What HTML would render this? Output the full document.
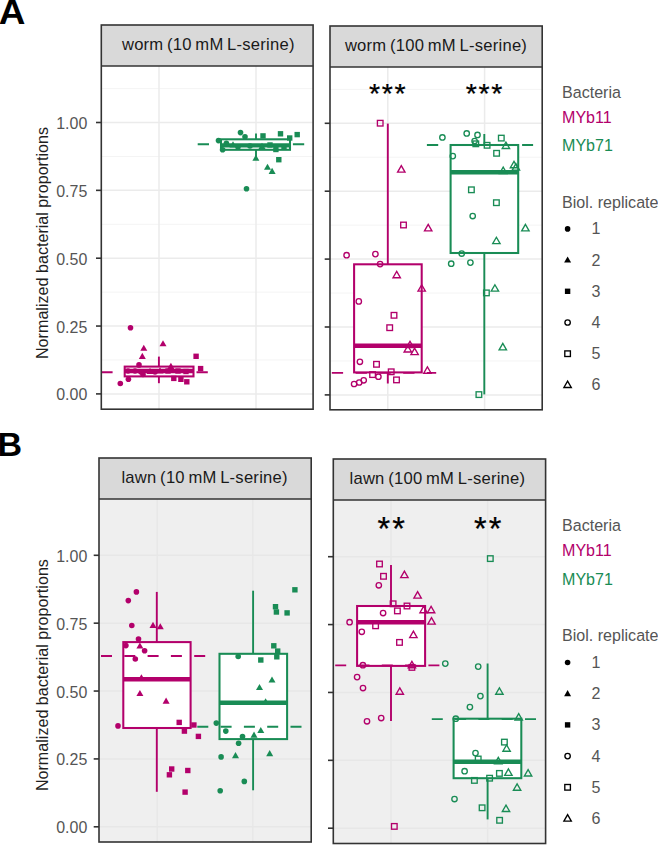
<!DOCTYPE html><html><head><meta charset="utf-8"><style>
html,body{margin:0;padding:0;background:#fff;width:658px;height:845px;overflow:hidden}
svg{display:block}
text{font-family:"Liberation Sans",sans-serif}
.strip{font-size:17.35px;letter-spacing:0.25px;word-spacing:-1.3px;fill:#1a1a1a}
.tick{font-size:16.7px;fill:#555555}
.leg{font-size:16.8px}
.ytitle{font-size:16.85px;fill:#1f1f1f}
.stars{fill:#000;stroke:#000;stroke-width:0.25px}
.tag{font-size:34px;font-weight:bold;fill:#000}
</style></head><body>
<svg width="658" height="845" viewBox="0 0 658 845">
<rect width="658" height="845" fill="#ffffff"/>
<text transform="translate(-1.2 23.8) scale(1.07 1)" class="tag" style="font-size:34.5px">A</text>
<text transform="translate(47.6 243) rotate(-90) scale(0.9569 1)" class="ytitle" text-anchor="middle">Normalized bacterial proportions</text>
<rect x="101.3" y="25" width="211.8" height="41" fill="#d9d9d9"/>
<text transform="translate(208.3 49.5) scale(0.9569 1)" class="strip" text-anchor="middle">worm (10 mM L-serine)</text>
<rect x="101.3" y="66" width="211.8" height="343.2" fill="#ffffff"/>
<line x1="101.3" x2="313.1" y1="359.97" y2="359.97" stroke="#f3f3f3" stroke-width="0.9"/>
<line x1="101.3" x2="313.1" y1="292.12" y2="292.12" stroke="#f3f3f3" stroke-width="0.9"/>
<line x1="101.3" x2="313.1" y1="224.27" y2="224.27" stroke="#f3f3f3" stroke-width="0.9"/>
<line x1="101.3" x2="313.1" y1="156.43" y2="156.43" stroke="#f3f3f3" stroke-width="0.9"/>
<line x1="101.3" x2="313.1" y1="88.57" y2="88.57" stroke="#f3f3f3" stroke-width="0.9"/>
<line x1="101.3" x2="313.1" y1="393.9" y2="393.9" stroke="#ebebeb" stroke-width="1.5"/>
<line x1="101.3" x2="313.1" y1="326.05" y2="326.05" stroke="#ebebeb" stroke-width="1.5"/>
<line x1="101.3" x2="313.1" y1="258.2" y2="258.2" stroke="#ebebeb" stroke-width="1.5"/>
<line x1="101.3" x2="313.1" y1="190.35" y2="190.35" stroke="#ebebeb" stroke-width="1.5"/>
<line x1="101.3" x2="313.1" y1="122.5" y2="122.5" stroke="#ebebeb" stroke-width="1.5"/>
<line x1="159" x2="159" y1="66" y2="409.2" stroke="#ebebeb" stroke-width="1.5"/>
<line x1="256" x2="256" y1="66" y2="409.2" stroke="#ebebeb" stroke-width="1.5"/>
<line x1="96" x2="101.3" y1="393.9" y2="393.9" stroke="#333333" stroke-width="1.6"/>
<text transform="translate(87.3 400.4) scale(0.9569 1)" class="tick" text-anchor="end">0.00</text>
<line x1="96" x2="101.3" y1="326.05" y2="326.05" stroke="#333333" stroke-width="1.6"/>
<text transform="translate(87.3 332.55) scale(0.9569 1)" class="tick" text-anchor="end">0.25</text>
<line x1="96" x2="101.3" y1="258.2" y2="258.2" stroke="#333333" stroke-width="1.6"/>
<text transform="translate(87.3 264.7) scale(0.9569 1)" class="tick" text-anchor="end">0.50</text>
<line x1="96" x2="101.3" y1="190.35" y2="190.35" stroke="#333333" stroke-width="1.6"/>
<text transform="translate(87.3 196.85) scale(0.9569 1)" class="tick" text-anchor="end">0.75</text>
<line x1="96" x2="101.3" y1="122.5" y2="122.5" stroke="#333333" stroke-width="1.6"/>
<text transform="translate(87.3 129) scale(0.9569 1)" class="tick" text-anchor="end">1.00</text>
<line x1="101.3" x2="207.8" y1="372.2" y2="372.2" stroke="#b3006b" stroke-width="1.9" stroke-dasharray="11.3 12.5" stroke-dashoffset="0"/>
<line x1="158.9" x2="158.9" y1="356.6" y2="366.6" stroke="#b3006b" stroke-width="1.9"/>
<line x1="158.9" x2="158.9" y1="376.4" y2="383.2" stroke="#b3006b" stroke-width="1.9"/>
<rect x="124.7" y="366.6" width="68.8" height="9.8" fill="#ffffff"/>
<rect x="124.7" y="366.6" width="68.8" height="9.8" fill="none" stroke="#b3006b" stroke-width="2.05"/>
<line x1="124.7" x2="193.5" y1="371" y2="371" stroke="#b3006b" stroke-width="4.4"/>
<circle cx="130.5" cy="327.7" r="2.8" fill="#b3006b"/>
<path d="M143.8 344.64L147.3 350.74L140.3 350.74Z" fill="#b3006b"/>
<path d="M163 340.14L166.5 346.24L159.5 346.24Z" fill="#b3006b"/>
<path d="M142.3 352.84L145.8 358.94L138.8 358.94Z" fill="#b3006b"/>
<rect x="193.4" y="353.6" width="5.4" height="5.4" fill="#b3006b"/>
<circle cx="120.3" cy="383.5" r="2.8" fill="#b3006b"/>
<circle cx="128.4" cy="379.2" r="2.8" fill="#b3006b"/>
<circle cx="139" cy="364.9" r="2.8" fill="#b3006b"/>
<rect x="171.1" y="375.7" width="5.4" height="5.4" fill="#b3006b"/>
<rect x="178.2" y="376.6" width="5.4" height="5.4" fill="#b3006b"/>
<rect x="184.1" y="379.1" width="5.4" height="5.4" fill="#b3006b"/>
<rect x="197.9" y="365.9" width="5.4" height="5.4" fill="#b3006b"/>
<path d="M170.9 362.84L174.4 368.94L167.4 368.94Z" fill="#b3006b"/>
<circle cx="135" cy="371" r="2.8" fill="#b3006b"/>
<path d="M150 367.84L153.5 373.94L146.5 373.94Z" fill="#b3006b"/>
<rect x="165.3" y="368.3" width="5.4" height="5.4" fill="#b3006b"/>
<rect x="175.3" y="368.3" width="5.4" height="5.4" fill="#b3006b"/>
<rect x="183.3" y="368.8" width="5.4" height="5.4" fill="#b3006b"/>
<path d="M160 367.34L163.5 373.44L156.5 373.44Z" fill="#b3006b"/>
<circle cx="141" cy="372" r="2.8" fill="#b3006b"/>
<circle cx="155" cy="372" r="2.8" fill="#b3006b"/>
<circle cx="143" cy="374.5" r="2.8" fill="#b3006b"/>
<circle cx="128" cy="371" r="2.8" fill="#b3006b"/>
<line x1="197.7" x2="304.3" y1="144.2" y2="144.2" stroke="#198c55" stroke-width="1.9" stroke-dasharray="11.3 12.5" stroke-dashoffset="0"/>
<line x1="256" x2="256" y1="133.4" y2="139.3" stroke="#198c55" stroke-width="1.9"/>
<line x1="256" x2="256" y1="149.8" y2="158.4" stroke="#198c55" stroke-width="1.9"/>
<rect x="221" y="139.3" width="69" height="10.5" fill="#ffffff"/>
<rect x="221" y="139.3" width="69" height="10.5" fill="none" stroke="#198c55" stroke-width="2.05"/>
<line x1="221" x2="290" y1="145.4" y2="145.4" stroke="#198c55" stroke-width="4.4"/>
<circle cx="240.5" cy="132.6" r="2.8" fill="#198c55"/>
<circle cx="245" cy="136.8" r="2.8" fill="#198c55"/>
<circle cx="218.5" cy="140.6" r="2.8" fill="#198c55"/>
<circle cx="222.6" cy="149.7" r="2.8" fill="#198c55"/>
<circle cx="226.4" cy="143.2" r="2.8" fill="#198c55"/>
<rect x="260.3" y="133.2" width="5.4" height="5.4" fill="#198c55"/>
<rect x="277.8" y="131.1" width="5.4" height="5.4" fill="#198c55"/>
<rect x="294.5" y="131.9" width="5.4" height="5.4" fill="#198c55"/>
<rect x="287" y="135.3" width="5.4" height="5.4" fill="#198c55"/>
<rect x="276.1" y="157" width="5.4" height="5.4" fill="#198c55"/>
<rect x="273.2" y="146.8" width="5.4" height="5.4" fill="#198c55"/>
<path d="M255.9 154.74L259.4 160.84L252.4 160.84Z" fill="#198c55"/>
<path d="M267.5 163.64L271 169.74L264 169.74Z" fill="#198c55"/>
<path d="M272.1 167.84L275.6 173.94L268.6 173.94Z" fill="#198c55"/>
<circle cx="246.5" cy="188.8" r="2.8" fill="#198c55"/>
<path d="M233 141.34L236.5 147.44L229.5 147.44Z" fill="#198c55"/>
<circle cx="250" cy="146" r="2.8" fill="#198c55"/>
<rect x="267.3" y="142.3" width="5.4" height="5.4" fill="#198c55"/>
<circle cx="238" cy="147" r="2.8" fill="#198c55"/>
<rect x="281.3" y="144.3" width="5.4" height="5.4" fill="#198c55"/>
<path d="M262 142.84L265.5 148.94L258.5 148.94Z" fill="#198c55"/>
<rect x="101.3" y="25" width="211.8" height="384.2" fill="none" stroke="#333333" stroke-width="1.6"/>
<line x1="101.3" x2="313.1" y1="66" y2="66" stroke="#333333" stroke-width="1.6"/>
<rect x="330" y="26" width="212.2" height="41" fill="#d9d9d9"/>
<text transform="translate(436 50.5) scale(0.9569 1)" class="strip" text-anchor="middle">worm (100 mM L-serine)</text>
<rect x="330" y="67" width="212.2" height="342.8" fill="#ffffff"/>
<line x1="330" x2="542.2" y1="360.95" y2="360.95" stroke="#f3f3f3" stroke-width="0.9"/>
<line x1="330" x2="542.2" y1="293.05" y2="293.05" stroke="#f3f3f3" stroke-width="0.9"/>
<line x1="330" x2="542.2" y1="225.15" y2="225.15" stroke="#f3f3f3" stroke-width="0.9"/>
<line x1="330" x2="542.2" y1="157.25" y2="157.25" stroke="#f3f3f3" stroke-width="0.9"/>
<line x1="330" x2="542.2" y1="89.35" y2="89.35" stroke="#f3f3f3" stroke-width="0.9"/>
<line x1="330" x2="542.2" y1="394.9" y2="394.9" stroke="#ebebeb" stroke-width="1.5"/>
<line x1="330" x2="542.2" y1="327" y2="327" stroke="#ebebeb" stroke-width="1.5"/>
<line x1="330" x2="542.2" y1="259.1" y2="259.1" stroke="#ebebeb" stroke-width="1.5"/>
<line x1="330" x2="542.2" y1="191.2" y2="191.2" stroke="#ebebeb" stroke-width="1.5"/>
<line x1="330" x2="542.2" y1="123.3" y2="123.3" stroke="#ebebeb" stroke-width="1.5"/>
<line x1="387.8" x2="387.8" y1="67" y2="409.8" stroke="#ebebeb" stroke-width="1.5"/>
<line x1="484.6" x2="484.6" y1="67" y2="409.8" stroke="#ebebeb" stroke-width="1.5"/>
<line x1="324.7" x2="330" y1="394.9" y2="394.9" stroke="#333333" stroke-width="1.6"/>
<line x1="324.7" x2="330" y1="327" y2="327" stroke="#333333" stroke-width="1.6"/>
<line x1="324.7" x2="330" y1="259.1" y2="259.1" stroke="#333333" stroke-width="1.6"/>
<line x1="324.7" x2="330" y1="191.2" y2="191.2" stroke="#333333" stroke-width="1.6"/>
<line x1="324.7" x2="330" y1="123.3" y2="123.3" stroke="#333333" stroke-width="1.6"/>
<text x="388.05" y="102.86" class="stars" text-anchor="middle" style="font-size:28.5px;letter-spacing:1.6px">***</text>
<text x="484.8" y="102.86" class="stars" text-anchor="middle" style="font-size:28.5px;letter-spacing:1.6px">***</text>
<line x1="331.8" x2="436.2" y1="372.9" y2="372.9" stroke="#b3006b" stroke-width="1.9" stroke-dasharray="11.3 12.5" stroke-dashoffset="0"/>
<line x1="387.8" x2="387.8" y1="123.6" y2="264.3" stroke="#b3006b" stroke-width="1.9"/>
<line x1="387.8" x2="387.8" y1="372.4" y2="383.5" stroke="#b3006b" stroke-width="1.9"/>
<rect x="354.1" y="264.3" width="67.6" height="108.1" fill="#ffffff"/>
<rect x="354.1" y="264.3" width="67.6" height="108.1" fill="none" stroke="#b3006b" stroke-width="2.05"/>
<line x1="354.1" x2="421.7" y1="345.8" y2="345.8" stroke="#b3006b" stroke-width="4.4"/>
<rect x="377.4" y="120.4" width="5.6" height="5.6" fill="none" stroke="#b3006b" stroke-width="1.35"/>
<path d="M401.3 165.66L405 172.06L397.6 172.06Z" fill="none" stroke="#b3006b" stroke-width="1.35" stroke-linejoin="miter"/>
<rect x="400.7" y="222.2" width="5.6" height="5.6" fill="none" stroke="#b3006b" stroke-width="1.35"/>
<path d="M428.2 224.46L431.9 230.86L424.5 230.86Z" fill="none" stroke="#b3006b" stroke-width="1.35" stroke-linejoin="miter"/>
<circle cx="346.6" cy="255.2" r="2.7" fill="none" stroke="#b3006b" stroke-width="1.35"/>
<circle cx="375.4" cy="254.1" r="2.7" fill="none" stroke="#b3006b" stroke-width="1.35"/>
<circle cx="380.1" cy="264.1" r="2.7" fill="none" stroke="#b3006b" stroke-width="1.35"/>
<path d="M396.7 271.36L400.4 277.76L393 277.76Z" fill="none" stroke="#b3006b" stroke-width="1.35" stroke-linejoin="miter"/>
<path d="M421.7 284.76L425.4 291.16L418 291.16Z" fill="none" stroke="#b3006b" stroke-width="1.35" stroke-linejoin="miter"/>
<circle cx="358.8" cy="301.4" r="2.7" fill="none" stroke="#b3006b" stroke-width="1.35"/>
<rect x="391.2" y="312.5" width="5.6" height="5.6" fill="none" stroke="#b3006b" stroke-width="1.35"/>
<rect x="386.9" y="324.9" width="5.6" height="5.6" fill="none" stroke="#b3006b" stroke-width="1.35"/>
<path d="M410 341.26L413.7 347.66L406.3 347.66Z" fill="none" stroke="#b3006b" stroke-width="1.35" stroke-linejoin="miter"/>
<path d="M407.8 345.56L411.5 351.96L404.1 351.96Z" fill="none" stroke="#b3006b" stroke-width="1.35" stroke-linejoin="miter"/>
<path d="M414.6 348.16L418.3 354.56L410.9 354.56Z" fill="none" stroke="#b3006b" stroke-width="1.35" stroke-linejoin="miter"/>
<circle cx="359.9" cy="361.8" r="2.7" fill="none" stroke="#b3006b" stroke-width="1.35"/>
<rect x="373.7" y="361.5" width="5.6" height="5.6" fill="none" stroke="#b3006b" stroke-width="1.35"/>
<path d="M427.4 366.86L431.1 373.26L423.7 373.26Z" fill="none" stroke="#b3006b" stroke-width="1.35" stroke-linejoin="miter"/>
<rect x="369.8" y="371.8" width="5.6" height="5.6" fill="none" stroke="#b3006b" stroke-width="1.35"/>
<circle cx="378.4" cy="376.7" r="2.7" fill="none" stroke="#b3006b" stroke-width="1.35"/>
<rect x="388.4" y="369" width="5.6" height="5.6" fill="none" stroke="#b3006b" stroke-width="1.35"/>
<rect x="393.7" y="377.1" width="5.6" height="5.6" fill="none" stroke="#b3006b" stroke-width="1.35"/>
<circle cx="354.1" cy="384" r="2.7" fill="none" stroke="#b3006b" stroke-width="1.35"/>
<circle cx="359.2" cy="382.5" r="2.7" fill="none" stroke="#b3006b" stroke-width="1.35"/>
<circle cx="363.7" cy="380.3" r="2.7" fill="none" stroke="#b3006b" stroke-width="1.35"/>
<line x1="426.9" x2="533.1" y1="145" y2="145" stroke="#198c55" stroke-width="1.9" stroke-dasharray="11.3 12.5" stroke-dashoffset="0"/>
<line x1="484.3" x2="484.3" y1="134" y2="145" stroke="#198c55" stroke-width="1.9"/>
<line x1="484.3" x2="484.3" y1="253" y2="394.4" stroke="#198c55" stroke-width="1.9"/>
<rect x="450.6" y="145" width="67.6" height="108" fill="#ffffff"/>
<rect x="450.6" y="145" width="67.6" height="108" fill="none" stroke="#198c55" stroke-width="2.05"/>
<line x1="450.6" x2="518.2" y1="172.2" y2="172.2" stroke="#198c55" stroke-width="4.4"/>
<circle cx="442.4" cy="137.4" r="2.7" fill="none" stroke="#198c55" stroke-width="1.35"/>
<circle cx="466.7" cy="133.4" r="2.7" fill="none" stroke="#198c55" stroke-width="1.35"/>
<circle cx="477.5" cy="134.9" r="2.7" fill="none" stroke="#198c55" stroke-width="1.35"/>
<circle cx="474.6" cy="141" r="2.7" fill="none" stroke="#198c55" stroke-width="1.35"/>
<rect x="473" y="141" width="5.6" height="5.6" fill="none" stroke="#198c55" stroke-width="1.35"/>
<rect x="484.3" y="142.5" width="5.6" height="5.6" fill="none" stroke="#198c55" stroke-width="1.35"/>
<rect x="498.5" y="135.3" width="5.6" height="5.6" fill="none" stroke="#198c55" stroke-width="1.35"/>
<path d="M505.9 142.06L509.6 148.46L502.2 148.46Z" fill="none" stroke="#198c55" stroke-width="1.35" stroke-linejoin="miter"/>
<circle cx="452.8" cy="156.1" r="2.7" fill="none" stroke="#198c55" stroke-width="1.35"/>
<rect x="493.8" y="150.5" width="5.6" height="5.6" fill="none" stroke="#198c55" stroke-width="1.35"/>
<path d="M514 161.36L517.7 167.76L510.3 167.76Z" fill="none" stroke="#198c55" stroke-width="1.35" stroke-linejoin="miter"/>
<path d="M515.9 163.66L519.6 170.06L512.2 170.06Z" fill="none" stroke="#198c55" stroke-width="1.35" stroke-linejoin="miter"/>
<path d="M503.2 167.06L506.9 173.46L499.5 173.46Z" fill="none" stroke="#198c55" stroke-width="1.35" stroke-linejoin="miter"/>
<rect x="468.6" y="187" width="5.6" height="5.6" fill="none" stroke="#198c55" stroke-width="1.35"/>
<rect x="493.6" y="199.9" width="5.6" height="5.6" fill="none" stroke="#198c55" stroke-width="1.35"/>
<circle cx="472.7" cy="216" r="2.7" fill="none" stroke="#198c55" stroke-width="1.35"/>
<path d="M525.4 224.46L529.1 230.86L521.7 230.86Z" fill="none" stroke="#198c55" stroke-width="1.35" stroke-linejoin="miter"/>
<path d="M496.4 237.26L500.1 243.66L492.7 243.66Z" fill="none" stroke="#198c55" stroke-width="1.35" stroke-linejoin="miter"/>
<circle cx="461.7" cy="253.5" r="2.7" fill="none" stroke="#198c55" stroke-width="1.35"/>
<circle cx="451.2" cy="263.7" r="2.7" fill="none" stroke="#198c55" stroke-width="1.35"/>
<circle cx="470.4" cy="262.6" r="2.7" fill="none" stroke="#198c55" stroke-width="1.35"/>
<path d="M494.9 284.76L498.6 291.16L491.2 291.16Z" fill="none" stroke="#198c55" stroke-width="1.35" stroke-linejoin="miter"/>
<rect x="483.6" y="290.1" width="5.6" height="5.6" fill="none" stroke="#198c55" stroke-width="1.35"/>
<path d="M502.8 343.46L506.5 349.86L499.1 349.86Z" fill="none" stroke="#198c55" stroke-width="1.35" stroke-linejoin="miter"/>
<rect x="476.1" y="391.8" width="5.6" height="5.6" fill="none" stroke="#198c55" stroke-width="1.35"/>
<rect x="330" y="26" width="212.2" height="383.8" fill="none" stroke="#333333" stroke-width="1.6"/>
<line x1="330" x2="542.2" y1="67" y2="67" stroke="#333333" stroke-width="1.6"/>
<text transform="translate(562 97.6) scale(0.9569 1)" class="leg" fill="#555555">Bacteria</text>
<text transform="translate(562 122.6) scale(0.9569 1)" class="leg" fill="#b3006b">MYb11</text>
<text transform="translate(562 150.9) scale(0.9569 1)" class="leg" fill="#198c55">MYb71</text>
<text transform="translate(562 207.7) scale(0.9569 1)" class="leg" fill="#555555">Biol. replicate</text>
<circle cx="567.6" cy="228.9" r="2.8" fill="#000000"/>
<text transform="translate(591.5 234.4) scale(0.9569 1)" class="leg" fill="#555555">1</text>
<path d="M567.6 256.44L571.1 262.54L564.1 262.54Z" fill="#000000"/>
<text transform="translate(591.5 265.6) scale(0.9569 1)" class="leg" fill="#555555">2</text>
<rect x="564.9" y="288.6" width="5.4" height="5.4" fill="#000000"/>
<text transform="translate(591.5 296.8) scale(0.9569 1)" class="leg" fill="#555555">3</text>
<circle cx="567.6" cy="322.5" r="2.7" fill="none" stroke="#000000" stroke-width="1.35"/>
<text transform="translate(591.5 328) scale(0.9569 1)" class="leg" fill="#555555">4</text>
<rect x="564.8" y="350.9" width="5.6" height="5.6" fill="none" stroke="#000000" stroke-width="1.35"/>
<text transform="translate(591.5 359.2) scale(0.9569 1)" class="leg" fill="#555555">5</text>
<path d="M567.6 381.06L571.3 387.46L563.9 387.46Z" fill="none" stroke="#000000" stroke-width="1.35" stroke-linejoin="miter"/>
<text transform="translate(591.5 390.4) scale(0.9569 1)" class="leg" fill="#555555">6</text>
<text x="-2.5" y="456" class="tag">B</text>
<text transform="translate(47.6 675.1) rotate(-90) scale(0.9569 1)" class="ytitle" text-anchor="middle">Normalized bacterial proportions</text>
<rect x="99" y="458" width="212.2" height="41" fill="#d9d9d9"/>
<text transform="translate(204.6 482.5) scale(0.9569 1)" class="strip" text-anchor="middle">lawn (10 mM L-serine)</text>
<rect x="99" y="499" width="212.2" height="343" fill="#efefef"/>
<line x1="99" x2="311.2" y1="826.8" y2="826.8" stroke="#e7e7e7" stroke-width="1.5"/>
<line x1="99" x2="311.2" y1="758.92" y2="758.92" stroke="#e7e7e7" stroke-width="1.5"/>
<line x1="99" x2="311.2" y1="691.05" y2="691.05" stroke="#e7e7e7" stroke-width="1.5"/>
<line x1="99" x2="311.2" y1="623.17" y2="623.17" stroke="#e7e7e7" stroke-width="1.5"/>
<line x1="99" x2="311.2" y1="555.3" y2="555.3" stroke="#e7e7e7" stroke-width="1.5"/>
<line x1="157.2" x2="157.2" y1="499" y2="842" stroke="#e7e7e7" stroke-width="1.5"/>
<line x1="252.8" x2="252.8" y1="499" y2="842" stroke="#e7e7e7" stroke-width="1.5"/>
<line x1="93.7" x2="99" y1="826.8" y2="826.8" stroke="#333333" stroke-width="1.6"/>
<text transform="translate(87.3 833.3) scale(0.9569 1)" class="tick" text-anchor="end">0.00</text>
<line x1="93.7" x2="99" y1="758.92" y2="758.92" stroke="#333333" stroke-width="1.6"/>
<text transform="translate(87.3 765.42) scale(0.9569 1)" class="tick" text-anchor="end">0.25</text>
<line x1="93.7" x2="99" y1="691.05" y2="691.05" stroke="#333333" stroke-width="1.6"/>
<text transform="translate(87.3 697.55) scale(0.9569 1)" class="tick" text-anchor="end">0.50</text>
<line x1="93.7" x2="99" y1="623.17" y2="623.17" stroke="#333333" stroke-width="1.6"/>
<text transform="translate(87.3 629.67) scale(0.9569 1)" class="tick" text-anchor="end">0.75</text>
<line x1="93.7" x2="99" y1="555.3" y2="555.3" stroke="#333333" stroke-width="1.6"/>
<text transform="translate(87.3 561.8) scale(0.9569 1)" class="tick" text-anchor="end">1.00</text>
<line x1="156.8" x2="156.8" y1="591.9" y2="642.1" stroke="#b3006b" stroke-width="1.9"/>
<line x1="156.8" x2="156.8" y1="728" y2="791.8" stroke="#b3006b" stroke-width="1.9"/>
<rect x="123.3" y="642.1" width="67.3" height="85.9" fill="#ffffff"/>
<line x1="253.1" x2="253.1" y1="590.7" y2="653.8" stroke="#198c55" stroke-width="1.9"/>
<line x1="253.1" x2="253.1" y1="739.1" y2="790.3" stroke="#198c55" stroke-width="1.9"/>
<rect x="219.5" y="653.8" width="67.6" height="85.3" fill="#ffffff"/>
<rect x="123.3" y="642.1" width="67.3" height="85.9" fill="none" stroke="#b3006b" stroke-width="2.05"/>
<line x1="123.3" x2="190.6" y1="679.3" y2="679.3" stroke="#b3006b" stroke-width="4.4"/>
<rect x="219.5" y="653.8" width="67.6" height="85.3" fill="none" stroke="#198c55" stroke-width="2.05"/>
<line x1="219.5" x2="287.1" y1="702.7" y2="702.7" stroke="#198c55" stroke-width="4.4"/>
<line x1="101" x2="206" y1="656" y2="656" stroke="#b3006b" stroke-width="1.9" stroke-dasharray="11 12.3" stroke-dashoffset="0"/>
<line x1="197.3" x2="302.3" y1="726.7" y2="726.7" stroke="#198c55" stroke-width="1.9" stroke-dasharray="11 12.3" stroke-dashoffset="0"/>
<circle cx="136.4" cy="591.9" r="2.8" fill="#b3006b"/>
<circle cx="128.3" cy="600.6" r="2.8" fill="#b3006b"/>
<circle cx="131.8" cy="625.5" r="2.8" fill="#b3006b"/>
<path d="M153 621.84L156.5 627.94L149.5 627.94Z" fill="#b3006b"/>
<path d="M160.3 623.24L163.8 629.34L156.8 629.34Z" fill="#b3006b"/>
<circle cx="138.5" cy="639.1" r="2.8" fill="#b3006b"/>
<circle cx="125.9" cy="645.6" r="2.8" fill="#b3006b"/>
<path d="M139.9 642.44L143.4 648.54L136.4 648.54Z" fill="#b3006b"/>
<circle cx="144.6" cy="650.8" r="2.8" fill="#b3006b"/>
<circle cx="135.3" cy="659" r="2.8" fill="#b3006b"/>
<path d="M141.4 674.24L144.9 680.34L137.9 680.34Z" fill="#b3006b"/>
<path d="M139.9 689.94L143.4 696.04L136.4 696.04Z" fill="#b3006b"/>
<path d="M166.1 697.54L169.6 703.64L162.6 703.64Z" fill="#b3006b"/>
<circle cx="118" cy="725.9" r="2.8" fill="#b3006b"/>
<rect x="176.5" y="719.7" width="5.4" height="5.4" fill="#b3006b"/>
<rect x="191.2" y="722.3" width="5.4" height="5.4" fill="#b3006b"/>
<rect x="181.7" y="728.4" width="5.4" height="5.4" fill="#b3006b"/>
<rect x="195.7" y="733.7" width="5.4" height="5.4" fill="#b3006b"/>
<rect x="169" y="766.3" width="5.4" height="5.4" fill="#b3006b"/>
<rect x="166.7" y="772.1" width="5.4" height="5.4" fill="#b3006b"/>
<rect x="185.1" y="767.8" width="5.4" height="5.4" fill="#b3006b"/>
<rect x="182.4" y="789.4" width="5.4" height="5.4" fill="#b3006b"/>
<rect x="292.2" y="587.1" width="5.4" height="5.4" fill="#198c55"/>
<rect x="272.8" y="604" width="5.4" height="5.4" fill="#198c55"/>
<rect x="273.7" y="609.3" width="5.4" height="5.4" fill="#198c55"/>
<rect x="284.4" y="610.2" width="5.4" height="5.4" fill="#198c55"/>
<rect x="271.1" y="643.1" width="5.4" height="5.4" fill="#198c55"/>
<rect x="275" y="648.4" width="5.4" height="5.4" fill="#198c55"/>
<rect x="274.1" y="654.1" width="5.4" height="5.4" fill="#198c55"/>
<rect x="258.1" y="657.3" width="5.4" height="5.4" fill="#198c55"/>
<circle cx="238.2" cy="656.5" r="2.8" fill="#198c55"/>
<path d="M272 676.44L275.5 682.54L268.5 682.54Z" fill="#198c55"/>
<path d="M259.5 683.94L263 690.04L256 690.04Z" fill="#198c55"/>
<path d="M265.6 698.14L269.1 704.24L262.1 704.24Z" fill="#198c55"/>
<circle cx="216.3" cy="723.1" r="2.8" fill="#198c55"/>
<circle cx="225.8" cy="731.1" r="2.8" fill="#198c55"/>
<circle cx="242.5" cy="736.5" r="2.8" fill="#198c55"/>
<circle cx="238.6" cy="743.2" r="2.8" fill="#198c55"/>
<path d="M260.8 726.94L264.3 733.04L257.3 733.04Z" fill="#198c55"/>
<path d="M254 731.54L257.5 737.64L250.5 737.64Z" fill="#198c55"/>
<circle cx="221.1" cy="756.9" r="2.8" fill="#198c55"/>
<path d="M235.5 752.04L239 758.14L232 758.14Z" fill="#198c55"/>
<path d="M269.7 750.04L273.2 756.14L266.2 756.14Z" fill="#198c55"/>
<circle cx="244.3" cy="781.4" r="2.8" fill="#198c55"/>
<circle cx="220.2" cy="790.7" r="2.8" fill="#198c55"/>
<rect x="99" y="458" width="212.2" height="384" fill="none" stroke="#333333" stroke-width="1.6"/>
<line x1="99" x2="311.2" y1="499" y2="499" stroke="#333333" stroke-width="1.6"/>
<rect x="333.3" y="459" width="212.3" height="41" fill="#d9d9d9"/>
<text transform="translate(437.4 483.5) scale(0.9569 1)" class="strip" text-anchor="middle">lawn (100 mM L-serine)</text>
<rect x="333.3" y="500" width="212.3" height="343.5" fill="#efefef"/>
<line x1="333.3" x2="545.6" y1="828.2" y2="828.2" stroke="#e7e7e7" stroke-width="1.5"/>
<line x1="333.3" x2="545.6" y1="760.33" y2="760.33" stroke="#e7e7e7" stroke-width="1.5"/>
<line x1="333.3" x2="545.6" y1="692.45" y2="692.45" stroke="#e7e7e7" stroke-width="1.5"/>
<line x1="333.3" x2="545.6" y1="624.58" y2="624.58" stroke="#e7e7e7" stroke-width="1.5"/>
<line x1="333.3" x2="545.6" y1="556.7" y2="556.7" stroke="#e7e7e7" stroke-width="1.5"/>
<line x1="391" x2="391" y1="500" y2="843.5" stroke="#e7e7e7" stroke-width="1.5"/>
<line x1="487.6" x2="487.6" y1="500" y2="843.5" stroke="#e7e7e7" stroke-width="1.5"/>
<line x1="328" x2="333.3" y1="828.2" y2="828.2" stroke="#333333" stroke-width="1.6"/>
<line x1="328" x2="333.3" y1="760.33" y2="760.33" stroke="#333333" stroke-width="1.6"/>
<line x1="328" x2="333.3" y1="692.45" y2="692.45" stroke="#333333" stroke-width="1.6"/>
<line x1="328" x2="333.3" y1="624.58" y2="624.58" stroke="#333333" stroke-width="1.6"/>
<line x1="328" x2="333.3" y1="556.7" y2="556.7" stroke="#333333" stroke-width="1.6"/>
<text x="392.25" y="539.72" class="stars" text-anchor="middle" style="font-size:32.5px;letter-spacing:2.1px">**</text>
<text x="488.65" y="539.72" class="stars" text-anchor="middle" style="font-size:32.5px;letter-spacing:2.1px">**</text>
<line x1="391" x2="391" y1="565" y2="606" stroke="#b3006b" stroke-width="1.9"/>
<line x1="391" x2="391" y1="665.9" y2="720.9" stroke="#b3006b" stroke-width="1.9"/>
<rect x="357.1" y="606" width="68" height="59.9" fill="#ffffff"/>
<line x1="487.6" x2="487.6" y1="663.5" y2="718.7" stroke="#198c55" stroke-width="1.9"/>
<line x1="487.6" x2="487.6" y1="778.2" y2="819.4" stroke="#198c55" stroke-width="1.9"/>
<rect x="453.6" y="718.7" width="67.7" height="59.5" fill="#ffffff"/>
<rect x="357.1" y="606" width="68" height="59.9" fill="none" stroke="#b3006b" stroke-width="2.05"/>
<line x1="357.1" x2="425.1" y1="622.2" y2="622.2" stroke="#b3006b" stroke-width="4.4"/>
<rect x="453.6" y="718.7" width="67.7" height="59.5" fill="none" stroke="#198c55" stroke-width="2.05"/>
<line x1="453.6" x2="521.3" y1="761.8" y2="761.8" stroke="#198c55" stroke-width="4.4"/>
<line x1="335.2" x2="440.2" y1="665.4" y2="665.4" stroke="#b3006b" stroke-width="1.9" stroke-dasharray="11 12.3" stroke-dashoffset="0"/>
<line x1="431.8" x2="536.8" y1="719.1" y2="719.1" stroke="#198c55" stroke-width="1.9" stroke-dasharray="11 12.3" stroke-dashoffset="0"/>
<rect x="376.7" y="561.2" width="5.6" height="5.6" fill="none" stroke="#b3006b" stroke-width="1.35"/>
<rect x="380.7" y="573.5" width="5.6" height="5.6" fill="none" stroke="#b3006b" stroke-width="1.35"/>
<circle cx="378.8" cy="585.3" r="2.7" fill="none" stroke="#b3006b" stroke-width="1.35"/>
<path d="M404.4 571.16L408.1 577.56L400.7 577.56Z" fill="none" stroke="#b3006b" stroke-width="1.35" stroke-linejoin="miter"/>
<path d="M417.6 591.66L421.3 598.06L413.9 598.06Z" fill="none" stroke="#b3006b" stroke-width="1.35" stroke-linejoin="miter"/>
<rect x="390.3" y="601" width="5.6" height="5.6" fill="none" stroke="#b3006b" stroke-width="1.35"/>
<rect x="404.2" y="603.2" width="5.6" height="5.6" fill="none" stroke="#b3006b" stroke-width="1.35"/>
<rect x="394.6" y="608.1" width="5.6" height="5.6" fill="none" stroke="#b3006b" stroke-width="1.35"/>
<circle cx="383.1" cy="613" r="2.7" fill="none" stroke="#b3006b" stroke-width="1.35"/>
<path d="M423.6 606.36L427.3 612.76L419.9 612.76Z" fill="none" stroke="#b3006b" stroke-width="1.35" stroke-linejoin="miter"/>
<path d="M431.1 606.36L434.8 612.76L427.4 612.76Z" fill="none" stroke="#b3006b" stroke-width="1.35" stroke-linejoin="miter"/>
<path d="M431.5 617.66L435.2 624.06L427.8 624.06Z" fill="none" stroke="#b3006b" stroke-width="1.35" stroke-linejoin="miter"/>
<circle cx="349.6" cy="622.2" r="2.7" fill="none" stroke="#b3006b" stroke-width="1.35"/>
<rect x="372.8" y="623" width="5.6" height="5.6" fill="none" stroke="#b3006b" stroke-width="1.35"/>
<circle cx="361.8" cy="631.8" r="2.7" fill="none" stroke="#b3006b" stroke-width="1.35"/>
<path d="M413.4 631.16L417.1 637.56L409.7 637.56Z" fill="none" stroke="#b3006b" stroke-width="1.35" stroke-linejoin="miter"/>
<rect x="396.7" y="639.6" width="5.6" height="5.6" fill="none" stroke="#b3006b" stroke-width="1.35"/>
<circle cx="362.9" cy="665.2" r="2.7" fill="none" stroke="#b3006b" stroke-width="1.35"/>
<path d="M411.9 661.36L415.6 667.76L408.2 667.76Z" fill="none" stroke="#b3006b" stroke-width="1.35" stroke-linejoin="miter"/>
<rect x="409.1" y="664.6" width="5.6" height="5.6" fill="none" stroke="#b3006b" stroke-width="1.35"/>
<circle cx="357.1" cy="677.1" r="2.7" fill="none" stroke="#b3006b" stroke-width="1.35"/>
<circle cx="363" cy="688" r="2.7" fill="none" stroke="#b3006b" stroke-width="1.35"/>
<path d="M399.8 687.86L403.5 694.26L396.1 694.26Z" fill="none" stroke="#b3006b" stroke-width="1.35" stroke-linejoin="miter"/>
<circle cx="367" cy="721.3" r="2.7" fill="none" stroke="#b3006b" stroke-width="1.35"/>
<circle cx="381.2" cy="718" r="2.7" fill="none" stroke="#b3006b" stroke-width="1.35"/>
<rect x="391.5" y="823.6" width="5.6" height="5.6" fill="none" stroke="#b3006b" stroke-width="1.35"/>
<rect x="487.5" y="555.8" width="5.6" height="5.6" fill="none" stroke="#198c55" stroke-width="1.35"/>
<circle cx="445.3" cy="663.6" r="2.7" fill="none" stroke="#198c55" stroke-width="1.35"/>
<circle cx="478.2" cy="666.6" r="2.7" fill="none" stroke="#198c55" stroke-width="1.35"/>
<path d="M499.4 687.86L503.1 694.26L495.7 694.26Z" fill="none" stroke="#198c55" stroke-width="1.35" stroke-linejoin="miter"/>
<circle cx="480.4" cy="696.1" r="2.7" fill="none" stroke="#198c55" stroke-width="1.35"/>
<circle cx="469.9" cy="707.1" r="2.7" fill="none" stroke="#198c55" stroke-width="1.35"/>
<circle cx="455.8" cy="718.7" r="2.7" fill="none" stroke="#198c55" stroke-width="1.35"/>
<path d="M518.7 713.56L522.4 719.96L515 719.96Z" fill="none" stroke="#198c55" stroke-width="1.35" stroke-linejoin="miter"/>
<rect x="501.6" y="739.3" width="5.6" height="5.6" fill="none" stroke="#198c55" stroke-width="1.35"/>
<path d="M506.6 744.86L510.3 751.26L502.9 751.26Z" fill="none" stroke="#198c55" stroke-width="1.35" stroke-linejoin="miter"/>
<circle cx="475.5" cy="753.1" r="2.7" fill="none" stroke="#198c55" stroke-width="1.35"/>
<rect x="475.4" y="756.2" width="5.6" height="5.6" fill="none" stroke="#198c55" stroke-width="1.35"/>
<circle cx="464.6" cy="771.2" r="2.7" fill="none" stroke="#198c55" stroke-width="1.35"/>
<rect x="496.6" y="770.6" width="5.6" height="5.6" fill="none" stroke="#198c55" stroke-width="1.35"/>
<path d="M508.4 768.96L512.1 775.36L504.7 775.36Z" fill="none" stroke="#198c55" stroke-width="1.35" stroke-linejoin="miter"/>
<path d="M528.1 769.56L531.8 775.96L524.4 775.96Z" fill="none" stroke="#198c55" stroke-width="1.35" stroke-linejoin="miter"/>
<rect x="471.6" y="777.6" width="5.6" height="5.6" fill="none" stroke="#198c55" stroke-width="1.35"/>
<rect x="486.8" y="775.4" width="5.6" height="5.6" fill="none" stroke="#198c55" stroke-width="1.35"/>
<path d="M517.1 783.86L520.8 790.26L513.4 790.26Z" fill="none" stroke="#198c55" stroke-width="1.35" stroke-linejoin="miter"/>
<circle cx="454.5" cy="799" r="2.7" fill="none" stroke="#198c55" stroke-width="1.35"/>
<rect x="479.3" y="805" width="5.6" height="5.6" fill="none" stroke="#198c55" stroke-width="1.35"/>
<path d="M506 805.06L509.7 811.46L502.3 811.46Z" fill="none" stroke="#198c55" stroke-width="1.35" stroke-linejoin="miter"/>
<rect x="496.8" y="817.5" width="5.6" height="5.6" fill="none" stroke="#198c55" stroke-width="1.35"/>
<path d="M498.3 757.36L502 763.76L494.6 763.76Z" fill="none" stroke="#198c55" stroke-width="1.35" stroke-linejoin="miter"/>
<rect x="333.3" y="459" width="212.3" height="384.5" fill="none" stroke="#333333" stroke-width="1.6"/>
<line x1="333.3" x2="545.6" y1="500" y2="500" stroke="#333333" stroke-width="1.6"/>
<text transform="translate(562 531.2) scale(0.9569 1)" class="leg" fill="#555555">Bacteria</text>
<text transform="translate(562 556.2) scale(0.9569 1)" class="leg" fill="#b3006b">MYb11</text>
<text transform="translate(562 584.5) scale(0.9569 1)" class="leg" fill="#198c55">MYb71</text>
<text transform="translate(562 641.3) scale(0.9569 1)" class="leg" fill="#555555">Biol. replicate</text>
<circle cx="567.6" cy="662.5" r="2.8" fill="#000000"/>
<text transform="translate(591.5 668) scale(0.9569 1)" class="leg" fill="#555555">1</text>
<path d="M567.6 690.04L571.1 696.14L564.1 696.14Z" fill="#000000"/>
<text transform="translate(591.5 699.2) scale(0.9569 1)" class="leg" fill="#555555">2</text>
<rect x="564.9" y="722.2" width="5.4" height="5.4" fill="#000000"/>
<text transform="translate(591.5 730.4) scale(0.9569 1)" class="leg" fill="#555555">3</text>
<circle cx="567.6" cy="756.1" r="2.7" fill="none" stroke="#000000" stroke-width="1.35"/>
<text transform="translate(591.5 761.6) scale(0.9569 1)" class="leg" fill="#555555">4</text>
<rect x="564.8" y="784.5" width="5.6" height="5.6" fill="none" stroke="#000000" stroke-width="1.35"/>
<text transform="translate(591.5 792.8) scale(0.9569 1)" class="leg" fill="#555555">5</text>
<path d="M567.6 814.66L571.3 821.06L563.9 821.06Z" fill="none" stroke="#000000" stroke-width="1.35" stroke-linejoin="miter"/>
<text transform="translate(591.5 824) scale(0.9569 1)" class="leg" fill="#555555">6</text>
</svg></body></html>
